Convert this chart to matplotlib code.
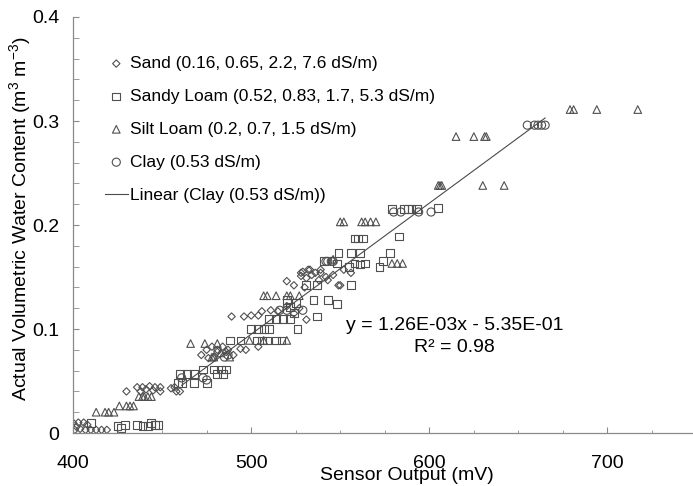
import numpy as np
import matplotlib
matplotlib.use("Agg")
from matplotlib import pyplot as plt

plt.rcParams['font.family'] = ['Liberation Sans', 'DejaVu Sans']
plt.rcParams['mathtext.fontset'] = 'custom'
plt.rcParams['mathtext.rm'] = 'Liberation Sans'
plt.rcParams['mathtext.default'] = 'regular'

# sensor output (mV) vs actual volumetric water content (m3 m-3)
sand_x = [400, 403, 406, 401, 404, 407, 410, 413, 416, 419, 402, 408,
          430, 436, 439, 443, 445, 449, 449, 438, 441, 446, 455, 458, 460, 457,
          472, 475, 478, 481, 484, 487, 490, 494, 497, 476, 479, 481, 486, 504,
          489, 496, 500, 504, 506, 511, 515, 527, 531, 520, 524,
          520, 524, 528, 528, 532, 534, 539, 543, 549, 550, 530,
          529, 533, 536, 539, 531, 538, 542, 546, 552, 556]
sand_y = [0.010, 0.010, 0.010, 0.003, 0.004, 0.003, 0.003, 0.003, 0.003, 0.003, 0.006, 0.008,
          0.040, 0.044, 0.044, 0.045, 0.041, 0.040, 0.044, 0.040, 0.042, 0.044, 0.043, 0.040, 0.040, 0.044,
          0.075, 0.080, 0.083, 0.080, 0.083, 0.080, 0.075, 0.081, 0.080, 0.072, 0.073, 0.078, 0.078, 0.083,
          0.112, 0.112, 0.113, 0.113, 0.117, 0.118, 0.117, 0.120, 0.109, 0.122, 0.115,
          0.146, 0.142, 0.151, 0.154, 0.157, 0.152, 0.154, 0.147, 0.142, 0.142, 0.140,
          0.155, 0.157, 0.154, 0.157, 0.149, 0.147, 0.150, 0.152, 0.157, 0.154]

sandy_loam_x = [410, 425, 429, 436, 439, 442, 446, 448, 427, 444,
                459, 461, 468, 475,
                460, 464, 468, 473, 479, 483, 486, 481, 484,
                488, 494, 503, 506, 509, 514, 517,
                500, 504, 507, 510, 526,
                510, 514, 518, 522, 522, 524, 520, 525, 535, 543, 548, 537,
                531, 537, 556,
                541, 548, 555, 558, 561, 564, 572, 574, 549, 556, 561, 578,
                558, 560, 563, 583,
                579, 586, 588, 590, 593, 605]
sandy_loam_y = [0.010, 0.007, 0.008, 0.008, 0.007, 0.007, 0.008, 0.008, 0.005, 0.010,
                0.048, 0.048, 0.048, 0.048,
                0.057, 0.057, 0.057, 0.061, 0.061, 0.061, 0.061, 0.057, 0.057,
                0.089, 0.089, 0.089, 0.089, 0.089, 0.089, 0.089,
                0.100, 0.100, 0.100, 0.100, 0.100,
                0.110, 0.110, 0.110, 0.110, 0.121, 0.115, 0.128, 0.125, 0.128, 0.128, 0.124, 0.112,
                0.142, 0.142, 0.142,
                0.165, 0.163, 0.160, 0.163, 0.162, 0.163, 0.160, 0.165, 0.173, 0.173, 0.173, 0.173,
                0.187, 0.187, 0.187, 0.189,
                0.215, 0.215, 0.215, 0.215, 0.215, 0.216]

silt_loam_x = [413, 418, 420, 423, 426, 430, 432, 434, 437, 439, 440, 442, 444,
               466, 474, 481, 478, 479, 483, 488, 499, 507, 520,
               507, 509, 514, 520, 522, 527, 546,
               550, 552, 562, 564, 567, 570, 579, 582, 585,
               605, 606, 607, 630, 642, 615, 625, 631, 632,
               679, 681, 694, 717]
silt_loam_y = [0.020, 0.020, 0.020, 0.020, 0.026, 0.026, 0.026, 0.026, 0.035, 0.035, 0.035, 0.035, 0.035,
               0.086, 0.086, 0.086, 0.073, 0.073, 0.077, 0.073, 0.089, 0.089, 0.089,
               0.132, 0.132, 0.132, 0.132, 0.132, 0.132, 0.167,
               0.203, 0.203, 0.203, 0.203, 0.203, 0.203, 0.163, 0.163, 0.163,
               0.238, 0.238, 0.238, 0.238, 0.238, 0.285, 0.285, 0.285, 0.285,
               0.311, 0.311, 0.311, 0.311]

clay_x = [461, 473, 475, 485, 487, 516, 520, 529, 542, 543, 545, 546,
          580, 584, 594, 601, 655, 659, 661, 663, 665]
clay_y = [0.053, 0.053, 0.051, 0.073, 0.075, 0.118, 0.118, 0.118, 0.165, 0.165, 0.165, 0.165,
          0.2125, 0.2125, 0.2125, 0.2125, 0.296, 0.296, 0.296, 0.296, 0.296]

# linear trendline reported for clay
slope = 1.26e-3
intercept = -0.535

fig = plt.figure(figsize=(6.93, 4.86), dpi=100)
ax = fig.add_axes([73 / 693, 53 / 486, 620 / 693, 416 / 486])

mk = dict(facecolors='none', edgecolors='#505050', linewidths=0.8)
ax.scatter(sand_x, sand_y, marker='D', s=14, label='Sand (0.16, 0.65, 2.2, 7.6 dS/m)', **mk)
ax.scatter(sandy_loam_x, sandy_loam_y, marker='s', s=32, label='Sandy Loam (0.52, 0.83, 1.7, 5.3 dS/m)', **mk)
ax.scatter(silt_loam_x, silt_loam_y, marker='^', s=30, label='Silt Loam (0.2, 0.7, 1.5 dS/m)', **mk)
ax.scatter(clay_x, clay_y, marker='o', s=34, label='Clay (0.53 dS/m)', **mk)

fit_x = np.array([min(clay_x), max(clay_x)])
ax.plot(fit_x, slope * fit_x + intercept, color='#4a4a4a', lw=0.8, label='Linear (Clay (0.53 dS/m))')

ax.set_xlim(400, 748)
ax.set_ylim(0, 0.4)
ax.set_xticks([400, 500, 600, 700])
ax.set_xticks(np.arange(400, 748, 25), minor=True)
ax.set_yticks([0, 0.1, 0.2, 0.3, 0.4])
ax.set_yticklabels(['0', '0.1', '0.2', '0.3', '0.4'])
ax.set_yticks(np.arange(0, 0.41, 0.02), minor=True)

for s in ['top', 'right']:
    ax.spines[s].set_visible(False)
for s in ['left', 'bottom']:
    ax.spines[s].set_color('#8a8a8a')
    ax.spines[s].set_linewidth(0.9)

ax.tick_params(axis='x', which='major', direction='in', length=4, color='#8a8a8a', labelsize=14, pad=16)
ax.tick_params(axis='x', which='minor', direction='in', length=2.5, color='#8a8a8a')
ax.tick_params(axis='y', which='both', direction='in', length=4, color='#8a8a8a', labelsize=14, pad=10)

ax.set_xlabel('Sensor Output (mV)', fontsize=14)
ax.xaxis.label.set_va('center')
ax.xaxis.set_label_coords(0.539, -0.101)
ax.set_ylabel('Actual Volumetric Water Content (m$^{3}$ m$^{-3}$)', fontsize=14)
ax.yaxis.label.set_va('center')
ax.yaxis.set_label_coords(-0.086, 0.515)

ax.text(0.615, 0.258, 'y = 1.26E-03x - 5.35E-01', transform=ax.transAxes,
        ha='center', va='center', fontsize=14)
ax.text(0.615, 0.205, 'R² = 0.98', transform=ax.transAxes,
        ha='center', va='center', fontsize=14)

ax.legend(loc='upper left', bbox_to_anchor=(105 / 693, 1 - 56 / 486), bbox_transform=fig.transFigure,
          frameon=False, fontsize=12.5, scatterpoints=1, handlelength=1.3, handletextpad=0.15,
          labelspacing=1.02, borderpad=0, borderaxespad=0)

plt.savefig("out.png", dpi=100)
